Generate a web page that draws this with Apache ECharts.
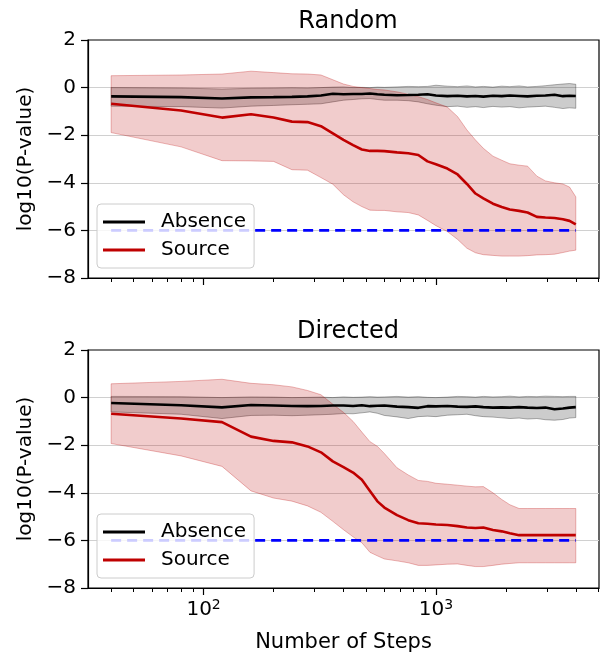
<!DOCTYPE html>
<html>
<head>
<meta charset="utf-8">
<script src="https://cdn.jsdelivr.net/npm/echarts@6/dist/echarts.min.js"></script>
<style>
    html,body{margin:0;padding:0;background:#fff;}
    #main{width:608px;height:658px;}
</style>
</head>
<body>
<div id="main"></div>
<script>
    // number of steps (x) shared by every series
    var steps = [40, 80, 120, 160, 200, 240, 280, 320, 360, 400, 440, 480, 520, 560, 600, 680, 760, 840, 920, 1000,
        1120, 1240, 1360, 1480, 1600, 1760, 1920, 2080, 2280, 2480, 2720, 2960, 3240, 3520, 3760, 4000];

    // Random: Absence (mean / band)
    var absMeanR = [-0.37, -0.40, -0.46, -0.41, -0.40, -0.39, -0.37, -0.33, -0.26, -0.28, -0.27, -0.27, -0.25, -0.28, -0.30, -0.32, -0.31, -0.30, -0.28, -0.33,
        -0.36, -0.34, -0.37, -0.35, -0.38, -0.34, -0.36, -0.33, -0.35, -0.37, -0.34, -0.33, -0.30, -0.36, -0.34, -0.35];
    var absHiR = [0.00, -0.02, -0.06, -0.03, -0.02, -0.01, -0.02, 0.00, 0.02, 0.03, 0.00, 0.01, 0.00, 0.02, 0.01, 0.03, 0.05, 0.04, 0.05, 0.10,
        0.06, 0.04, 0.07, 0.03, 0.05, 0.02, 0.06, 0.04, 0.07, 0.03, 0.05, 0.08, 0.12, 0.15, 0.17, 0.14];
    var absLoR = [-0.78, -0.80, -0.86, -0.78, -0.75, -0.72, -0.70, -0.68, -0.60, -0.53, -0.50, -0.47, -0.46, -0.50, -0.53, -0.53, -0.55, -0.60, -0.68, -0.74,
        -0.80, -0.78, -0.83, -0.80, -0.84, -0.79, -0.82, -0.80, -0.85, -0.82, -0.80, -0.78, -0.83, -0.88, -0.85, -0.87];
    // Random: Source
    var srcMeanR = [-0.68, -0.96, -1.26, -1.12, -1.26, -1.43, -1.45, -1.62, -1.92, -2.20, -2.42, -2.60, -2.66, -2.66, -2.67, -2.72, -2.76, -2.83, -3.10, -3.22,
        -3.40, -3.65, -4.05, -4.45, -4.65, -4.88, -5.02, -5.12, -5.18, -5.25, -5.43, -5.46, -5.48, -5.53, -5.60, -5.75];
    var srcHiR = [0.50, 0.53, 0.57, 0.69, 0.63, 0.58, 0.57, 0.53, 0.33, 0.15, 0.05, 0.00, -0.04, -0.08, -0.10, -0.18, -0.28, -0.38, -0.50, -0.64,
        -0.82, -1.22, -1.78, -2.20, -2.55, -2.88, -3.05, -3.20, -3.26, -3.30, -3.72, -3.92, -4.00, -4.05, -4.18, -4.59];
    var srcLoR = [-1.89, -2.49, -3.07, -3.08, -3.10, -3.45, -3.47, -3.78, -4.06, -4.50, -4.80, -5.00, -5.15, -5.16, -5.16, -5.22, -5.25, -5.35, -5.58, -5.80,
        -6.05, -6.38, -6.75, -6.94, -7.02, -7.05, -7.08, -7.08, -7.08, -7.06, -7.03, -7.02, -7.00, -6.93, -6.87, -6.83];

    // Directed: Absence
    var absMeanD = [-0.23, -0.32, -0.41, -0.31, -0.33, -0.35, -0.36, -0.35, -0.33, -0.33, -0.35, -0.32, -0.36, -0.34, -0.33, -0.38, -0.40, -0.43, -0.36, -0.37,
        -0.35, -0.38, -0.39, -0.37, -0.40, -0.42, -0.41, -0.42, -0.40, -0.42, -0.44, -0.42, -0.49, -0.46, -0.42, -0.40];
    var absHiD = [0.05, 0.04, 0.00, 0.03, 0.02, 0.00, 0.01, 0.02, 0.00, 0.03, 0.01, 0.02, 0.04, 0.02, 0.03, 0.05, 0.02, 0.04, 0.01, 0.00,
        0.02, 0.05, 0.04, 0.02, 0.05, 0.03, 0.04, 0.06, 0.03, 0.05, 0.04, 0.06, 0.05, 0.04, 0.05, 0.05];
    var absLoD = [-0.60, -0.70, -0.88, -0.75, -0.74, -0.76, -0.74, -0.72, -0.70, -0.67, -0.68, -0.64, -0.60, -0.66, -0.75, -0.81, -0.88, -0.80, -0.78, -0.80,
        -0.74, -0.72, -0.70, -0.76, -0.80, -0.82, -0.85, -0.88, -0.86, -0.90, -0.88, -0.93, -0.95, -0.92, -0.86, -0.84];
    // Directed: Source
    var srcMeanD = [-0.68, -0.88, -1.03, -1.64, -1.82, -1.88, -2.05, -2.30, -2.68, -2.92, -3.15, -3.45, -3.92, -4.36, -4.62, -4.94, -5.15, -5.28, -5.30, -5.33,
        -5.35, -5.40, -5.46, -5.48, -5.46, -5.56, -5.62, -5.70, -5.78, -5.78, -5.78, -5.78, -5.78, -5.78, -5.78, -5.78];
    var srcHiD = [0.58, 0.68, 0.77, 0.60, 0.54, 0.45, 0.30, 0.12, -0.28, -0.62, -1.00, -1.45, -1.85, -2.05, -2.35, -2.95, -3.25, -3.48, -3.52, -3.60,
        -3.64, -3.68, -3.72, -3.75, -3.74, -4.00, -4.28, -4.50, -4.66, -4.66, -4.66, -4.66, -4.66, -4.66, -4.66, -4.66];
    var srcLoD = [-1.93, -2.45, -2.89, -3.92, -4.22, -4.35, -4.55, -4.82, -5.20, -5.55, -5.85, -6.10, -6.50, -6.65, -6.78, -6.86, -6.94, -7.05, -7.05, -7.03,
        -7.00, -6.99, -7.05, -7.10, -7.10, -7.05, -7.00, -6.97, -6.94, -6.94, -6.94, -6.94, -6.94, -6.94, -6.94, -6.94];

    var threshold = -6;
    var majorTicks = [100, 1000];
    var minorTicks = [40, 50, 60, 70, 80, 90, 200, 300, 400, 500, 600, 700, 800, 900, 2000, 3000, 4000, 5000];
    var xMin = 31.8, xMax = 5035;

    var font = 'DejaVu Sans';
    var redLine = '#bf0000';

    var myChart = echarts.init(document.getElementById('main'));

    function band(gi, lo, hi, fill, stroke) {
        return {
            type: 'custom',
            xAxisIndex: gi * 2,
            yAxisIndex: gi,
            silent: true,
            z: 1,
            data: steps.map(function (s, i) { return [s, lo[i], hi[i]]; }),
            encode: {x: 0, y: [1, 2]},
            renderItem: function (params, api) {
                if (params.dataIndex !== 0) return;
                var pts = [];
                for (var i = 0; i < steps.length; i++) pts.push(api.coord([steps[i], hi[i]]));
                for (var j = steps.length - 1; j >= 0; j--) pts.push(api.coord([steps[j], lo[j]]));
                return {type: 'polygon', shape: {points: pts}, style: {fill: fill, stroke: stroke, lineWidth: 1}};
            }
        };
    }

    function line(gi, name, vals, color) {
        return {
            type: 'line', name: name, xAxisIndex: gi * 2, yAxisIndex: gi,
            data: steps.map(function (s, i) { return [s, vals[i]]; }),
            symbol: 'none', color: color, z: 3,
            lineStyle: {color: color, width: 2.6}
        };
    }

    var tops = [40, 350];
    var titles = ['Random', 'Directed'];
    var grid = [], xAxis = [], yAxis = [], title = [], legend = [], series = [];
    var sets = [
        [absMeanR, absLoR, absHiR, srcMeanR, srcLoR, srcHiR],
        [absMeanD, absLoD, absHiD, srcMeanD, srcLoD, srcHiD]
    ];

    for (var g = 0; g < 2; g++) {
        grid.push({left: 88, top: tops[g], width: 511, height: 238, show: true, borderColor: '#000', borderWidth: 1.2});
        title.push({
            text: titles[g], left: 343, top: tops[g] - 35, textAlign: 'center',
            textStyle: {fontFamily: font, fontSize: 24, fontWeight: 'normal', color: '#000'}
        });
        // major ticks (10^2, 10^3)
        xAxis.push({
            type: 'log', gridIndex: g, min: xMin, max: xMax, position: 'bottom',
            axisLine: {show: true, onZero: false, lineStyle: {color: '#000', width: 1.2}},
            axisTick: {show: true, customValues: majorTicks, length: 7, lineStyle: {color: '#000', width: 1.2}},
            axisLabel: {
                show: g === 1, customValues: majorTicks, margin: 10, color: '#000',
                formatter: function (v) { return '{b|10}{s|' + Math.round(Math.log10(v)) + '}'; },
                rich: {
                    b: {fontFamily: font, fontSize: 20, color: '#000'},
                    s: {fontFamily: font, fontSize: 14, color: '#000', verticalAlign: 'top', padding: [0, 0, 10, 0]}
                }
            },
            splitLine: {show: false},
            name: g === 1 ? 'Number of Steps' : '',
            nameLocation: 'middle', nameGap: 44,
            nameTextStyle: {fontFamily: font, fontSize: 21, color: '#000'}
        });
        // minor ticks
        xAxis.push({
            type: 'log', gridIndex: g, min: xMin, max: xMax, position: 'bottom',
            axisLine: {show: false, onZero: false},
            axisTick: {show: true, customValues: minorTicks, length: 4, lineStyle: {color: '#000', width: 1}},
            axisLabel: {show: false},
            splitLine: {show: false}
        });
        yAxis.push({
            type: 'value', gridIndex: g, min: -8, max: 2, interval: 2,
            axisLine: {show: true, onZero: false, lineStyle: {color: '#000', width: 1.2}},
            axisTick: {show: true, length: 7, lineStyle: {color: '#000', width: 1.2}},
            axisLabel: {
                margin: 12, color: '#000', fontFamily: font, fontSize: 20,
                formatter: function (v) { return v < 0 ? '\u2212' + (-v) : String(v); }
            },
            splitLine: {show: true, showMinLine: false, showMaxLine: false, lineStyle: {color: '#d0d0d0', width: 1.2}},
            name: 'log10(P-value)', nameLocation: 'middle', nameGap: 41,
            nameTextStyle: {fontFamily: font, fontSize: 20, color: '#000'}
        });
        legend.push({
            orient: 'vertical', left: 97, top: tops[g] + 164,
            data: ['Absence', 'Source'],
            icon: 'rect', itemWidth: 42, itemHeight: 3, itemGap: 8,
            padding: [8, 8, 8, 6],
            backgroundColor: 'rgba(255,255,255,0.8)',
            borderColor: '#cccccc', borderWidth: 1, borderRadius: 4,
            selectedMode: false,
            textStyle: {fontFamily: font, fontSize: 20, color: '#000', padding: [0, 0, 0, 11]}
        });

        var d = sets[g];
        series.push(band(g, d[1], d[2], 'rgba(0,0,0,0.2)', 'rgba(0,0,0,0.3)'));
        series.push(band(g, d[4], d[5], 'rgba(185,0,0,0.2)', 'rgba(185,0,0,0.28)'));
        series.push(line(g, 'Absence', d[0], '#000000'));
        series.push(line(g, 'Source', d[3], redLine));
        series.push({
            type: 'line', name: 'threshold', xAxisIndex: g * 2, yAxisIndex: g,
            data: [[steps[0], threshold], [steps[steps.length - 1], threshold]],
            symbol: 'none', z: 3,
            lineStyle: {color: '#0000ff', width: 2.6, type: [10, 6]}
        });
    }

    var option = {
        animation: false,
        backgroundColor: '#fff',
        title: title,
        grid: grid,
        xAxis: xAxis,
        yAxis: yAxis,
        legend: legend,
        series: series
    };
    myChart.setOption(option, true);
</script>
</body>
</html>
